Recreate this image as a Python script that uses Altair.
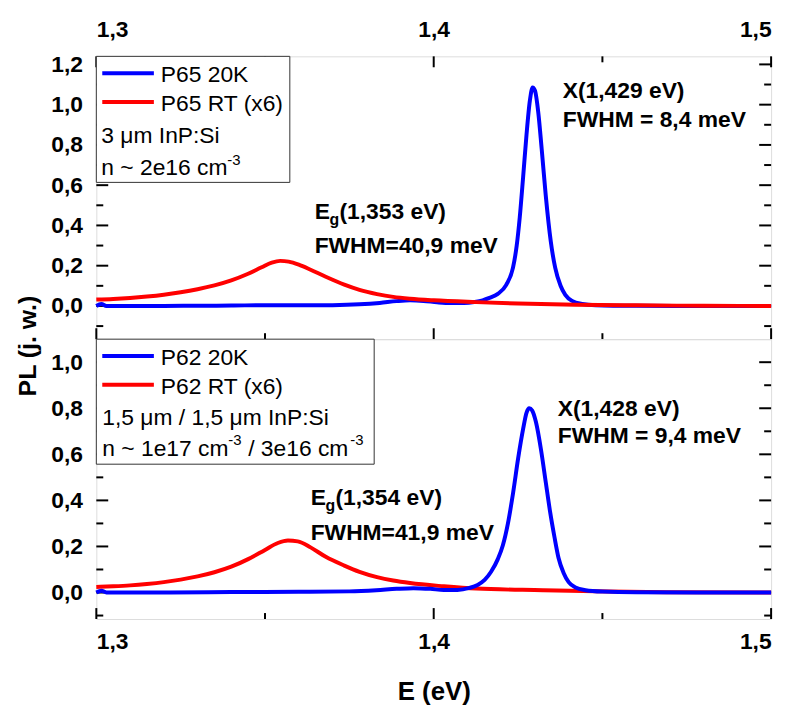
import altair as alt
import pandas as pd

FONT = "Liberation Sans"

# ---------------- data ----------------
top_blue_E = [1.300, 1.3015, 1.303, 1.310, 1.320, 1.330, 1.340, 1.350, 1.360, 1.370, 1.378, 1.384,
              1.389, 1.393, 1.397, 1.401, 1.405, 1.409, 1.412, 1.4145, 1.4165, 1.419, 1.4215,
              1.4235, 1.4246, 1.4255, 1.4265, 1.4275, 1.4285, 1.4293, 1.4300, 1.4310, 1.4320,
              1.4332, 1.4347, 1.4360, 1.4376, 1.4390, 1.4410, 1.4440, 1.4480, 1.460, 1.480, 1.500]
top_blue_I = [0.000, 0.010, 0.000, 0.000, 0.000, 0.001, 0.002, 0.004, 0.003, 0.004, 0.008, 0.015,
              0.024, 0.028, 0.025, 0.018, 0.014, 0.015, 0.020, 0.028, 0.040, 0.060, 0.105,
              0.19, 0.30, 0.44, 0.64, 0.85, 1.02, 1.085, 1.07, 0.96, 0.78,
              0.55, 0.32, 0.19, 0.10, 0.055, 0.025, 0.010, 0.004, 0.001, 0.000, 0.000]

top_red_E = [1.300, 1.305, 1.310, 1.315, 1.320, 1.325, 1.330, 1.335, 1.340, 1.345, 1.349, 1.352,
             1.3545, 1.357, 1.360, 1.3635, 1.368, 1.3735, 1.378, 1.3832, 1.388, 1.393, 1.400,
             1.4126, 1.425, 1.442, 1.460, 1.480, 1.500]
top_red_I = [0.032, 0.035, 0.040, 0.047, 0.056, 0.068, 0.083, 0.102, 0.127, 0.160, 0.192, 0.215,
             0.224, 0.220, 0.205, 0.180, 0.145, 0.106, 0.080, 0.059, 0.045, 0.036, 0.028,
             0.019, 0.012, 0.006, 0.003, 0.001, 0.000]

bot_blue_E = [1.300, 1.3015, 1.303, 1.320, 1.340, 1.360, 1.375, 1.383, 1.389, 1.394, 1.399, 1.403,
              1.407, 1.4106, 1.413, 1.4151, 1.417, 1.419, 1.4205, 1.422, 1.4235, 1.4250, 1.4265,
              1.4275, 1.4283, 1.4292, 1.4303, 1.4318, 1.4332, 1.4345, 1.4358, 1.4370, 1.4385,
              1.440, 1.442, 1.445, 1.450, 1.460, 1.500]
bot_blue_I = [0.000, 0.008, 0.000, 0.000, 0.002, 0.003, 0.005, 0.010, 0.016, 0.019, 0.016, 0.011,
              0.011, 0.020, 0.033, 0.055, 0.090, 0.145, 0.205, 0.30, 0.43, 0.58, 0.71,
              0.78, 0.80, 0.79, 0.74, 0.62, 0.48, 0.35, 0.24, 0.15, 0.085,
              0.045, 0.022, 0.010, 0.004, 0.001, 0.000]

bot_red_E = [1.300, 1.305, 1.310, 1.315, 1.320, 1.325, 1.330, 1.335, 1.340, 1.345, 1.350, 1.3538,
             1.3568, 1.3597, 1.3635, 1.368, 1.3735, 1.378, 1.3832, 1.388, 1.393, 1.403, 1.4126,
             1.4324, 1.4518, 1.470, 1.500]
bot_red_I = [0.024, 0.027, 0.031, 0.037, 0.045, 0.056, 0.070, 0.088, 0.112, 0.145, 0.185, 0.215,
             0.226, 0.222, 0.196, 0.155, 0.117, 0.090, 0.067, 0.052, 0.041, 0.027, 0.017,
             0.010, 0.004, 0.001, 0.000]

x_major = [1.3, 1.4, 1.5]
x_minor = [1.35, 1.45]
top_y_major = [0.0, 0.2, 0.4, 0.6, 0.8, 1.0, 1.2]
top_y_minor = [-0.1, 0.1, 0.3, 0.5, 0.7, 0.9, 1.1]
bot_y_major = [0.0, 0.2, 0.4, 0.6, 0.8, 1.0]
bot_y_minor = [-0.1, 0.1, 0.3, 0.5, 0.7, 0.9]

top_domain = [-0.165, 1.24]
bot_domain = [-0.115, 1.1]

# ---------------- layout / style ----------------
W = 680
H_TOP = 285
H_BOT = 282
BLUE = "#0000ff"
RED = "#ff0000"
LBL = "replace(format(datum.value, '.1f'), '.', ',')"
ONE = pd.DataFrame({"k": [0]})
ANN = 23

x_scale = alt.Scale(domain=[1.3, 1.5], nice=False, zero=False)


def x_axis(orient, title=None):
    kw = dict(orient=orient, values=x_major, labelExpr=LBL, ticks=False, tickSize=0,
              domain=False, grid=False, labelFont=FONT, labelFontSize=23,
              labelFontWeight="bold", labelColor="black",
              labelPadding=15 if orient == "top" else 12)
    if title:
        kw.update(title=title, titleFont=FONT, titleFontSize=26, titleFontWeight="bold",
                  titleColor="black", titlePadding=25)
    else:
        kw.update(title=None)
    return alt.Axis(**kw)


def y_axis(vals):
    return alt.Axis(values=vals, labelExpr=LBL, ticks=False, tickSize=0, domain=False,
                    grid=False, title=None, labelFont=FONT, labelFontSize=23,
                    labelFontWeight="bold", labelColor="black", labelPadding=14)


def txt(s, x, y, size=23, bold=False, **kw):
    return alt.Chart(ONE).mark_text(
        text=s, align=kw.pop("align", "left"), baseline=kw.pop("baseline", "alphabetic"),
        font=FONT, fontSize=size, fontWeight="bold" if bold else "normal", color="black", **kw
    ).encode(x=alt.value(x), y=alt.value(y))


def panel(bE, bI, rE, rI, domain, ymaj, ymin, xax, H, blue_on_top, extra):
    X = alt.X("E:Q", scale=x_scale, axis=xax)
    Y = alt.Y("I:Q", scale=alt.Scale(domain=domain, nice=False, zero=False), axis=y_axis(ymaj))
    blue = alt.Chart(pd.DataFrame({"E": bE, "I": bI})).mark_line(
        color=BLUE, strokeWidth=4, interpolate="monotone").encode(x=X, y=Y)
    red = alt.Chart(pd.DataFrame({"E": rE, "I": rI})).mark_line(
        color=RED, strokeWidth=4, interpolate="monotone").encode(x=X, y=Y)
    ticks = []
    for vals, L in ((ymaj, 12), (ymin, 7)):
        d = pd.DataFrame({"I": vals})
        ticks.append(alt.Chart(d).mark_rule(color="black", strokeWidth=2).encode(
            y=Y, x=alt.value(0), x2=alt.value(L)))
        ticks.append(alt.Chart(d).mark_rule(color="black", strokeWidth=2).encode(
            y=Y, x=alt.value(W), x2=alt.value(W - L)))
    for vals, L in ((x_major, 11), (x_minor, 6)):
        d = pd.DataFrame({"E": vals})
        ticks.append(alt.Chart(d).mark_rule(color="black", strokeWidth=2).encode(
            x=X, y=alt.value(H), y2=alt.value(H - L)))
        if H == H_TOP:
            ticks.append(alt.Chart(d).mark_rule(color="black", strokeWidth=2).encode(
                x=X, y=alt.value(0), y2=alt.value(L)))
    lines = [blue, red] if not blue_on_top else [red, blue]
    return alt.layer(*ticks, *lines, *extra).properties(width=W, height=H)


def legend_box(w, h, t1, t2, rows):
    items = [
        alt.Chart(ONE).mark_rect(fill="white", stroke="#333333", strokeWidth=1).encode(
            x=alt.value(0), x2=alt.value(w), y=alt.value(0), y2=alt.value(h)),
        alt.Chart(ONE).mark_rule(color=BLUE, strokeWidth=4).encode(
            x=alt.value(6), x2=alt.value(58), y=alt.value(17)),
        alt.Chart(ONE).mark_rule(color=RED, strokeWidth=4).encode(
            x=alt.value(6), x2=alt.value(58), y=alt.value(46)),
        txt(t1, 65, 26),
        txt(t2, 65, 55),
    ]
    items += rows
    return items


top_extra = legend_box(195, 127, "P65 20K", "P65 RT (x6)", [
    txt("3 \u03bcm InP:Si", 5, 87),
    txt("n ~ 2e16 cm", 5, 120),
    txt("-3", 132, 109, size=15),
]) + [
    txt("E", 220, 164, size=ANN, bold=True),
    txt("g", 235, 170, size=16, bold=True),
    txt("(1,353 eV)", 245, 164, size=ANN, bold=True),
    txt("FWHM=40,9 meV", 220, 198, size=ANN, bold=True),
    txt("X(1,429 eV)", 470, 42, size=ANN, bold=True),
    txt("FWHM = 8,4 meV", 470, 71, size=ANN, bold=True),
    txt("PL (j. w.)", -69, 292, size=25, bold=True, angle=270, align="center",
        baseline="middle"),
]

bot_extra = legend_box(280, 126, "P62 20K", "P62 RT (x6)", [
    txt("1,5 \u03bcm / 1,5 \u03bcm InP:Si", 6, 87),
    txt("n ~ 1e17 cm", 6, 118),
    txt("-3", 133, 107, size=15),
    txt("/ 3e16 cm", 153, 118),
    txt("-3", 256, 107, size=15),
]) + [
    txt("E", 216, 167, size=ANN, bold=True),
    txt("g", 231, 173, size=16, bold=True),
    txt("(1,354 eV)", 241, 167, size=ANN, bold=True),
    txt("FWHM=41,9 meV", 216, 202, size=ANN, bold=True),
    txt("X(1,428 eV)", 465, 77, size=ANN, bold=True),
    txt("FWHM = 9,4 meV", 465, 105, size=ANN, bold=True),
]

top = panel(top_blue_E, top_blue_I, top_red_E, top_red_I, top_domain, top_y_major,
            top_y_minor, x_axis("top"), H_TOP, False, top_extra)
bottom = panel(bot_blue_E, bot_blue_I, bot_red_E, bot_red_I, bot_domain, bot_y_major,
               bot_y_minor, x_axis("bottom", "E (eV)"), H_BOT, True, bot_extra)

chart = alt.vconcat(top, bottom, spacing=0, bounds="flush").properties(
    padding={"left": 7, "top": 7, "right": 5, "bottom": 5}
).configure_view(stroke="black", strokeWidth=2).configure(font=FONT)

chart.save("out.html", embed_options={"renderer": "svg", "actions": False})
